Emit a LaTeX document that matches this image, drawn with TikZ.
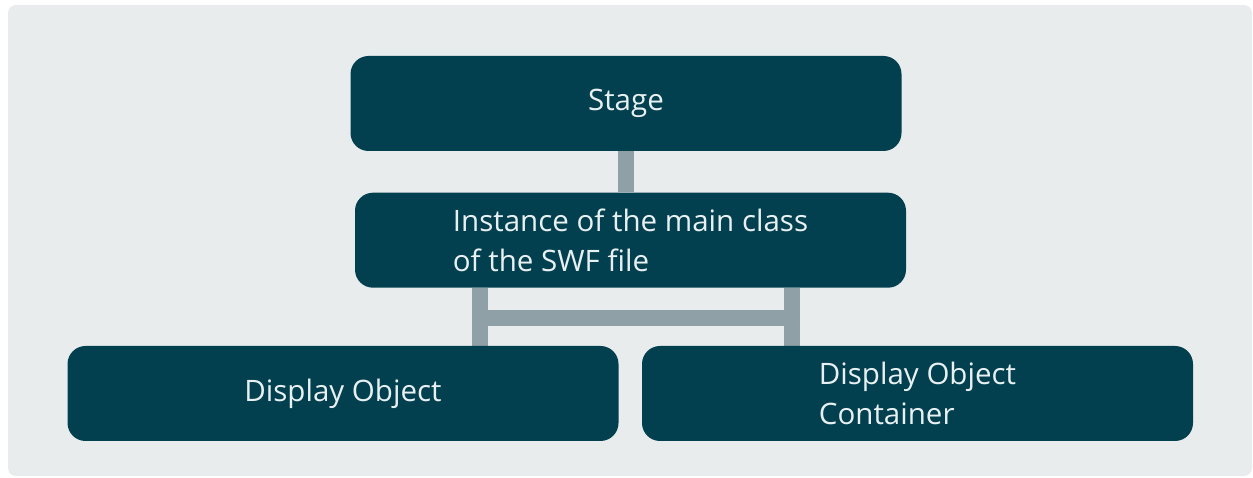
\documentclass[tikz,border=0pt]{standalone}
\usepackage{fontspec}
\setmainfont{Open Sans}
\usepackage{tikz}
\usetikzlibrary{positioning,backgrounds}

\definecolor{panelgray}{HTML}{E8ECED}
\definecolor{boxteal}{HTML}{03404F}
\definecolor{linkgray}{HTML}{8FA1A7}
\definecolor{boxtext}{HTML}{E8F0F2}

\tikzset{
  classbox/.style={draw=none, fill=boxteal, rounded corners=0.36cm,
    minimum width=11.02cm, minimum height=1.9cm, align=left,
    text=boxtext, font=\fontsize{16.8}{22.7}\selectfont},
  link/.style={draw=linkgray, line width=0.32cm}
}

\begin{document}
\begin{tikzpicture}
  \useasboundingbox (0,0) rectangle (25.06,9.56);

  \node[classbox] (stage) at (12.52,7.49) {Stage};
  \node[classbox, below=0.82cm of stage, xshift=0.09cm] (inst)
    {Instance of the main class\\of the SWF file};
  \node[classbox] (dobj) at (6.86,1.69) {Display Object};
  \node[classbox] (dcont) at (18.35,1.69) {Display Object\\Container};

  \coordinate (lft) at (9.6,3.2);
  \coordinate (rgt) at (15.84,3.2);

  \begin{scope}[on background layer]
    \fill[panelgray, rounded corners=0.16cm] (0.16,0.04) rectangle (25.04,9.46);
    \draw[link] (stage.south) -- (stage.south |- inst.north);
    \draw[link] (inst.south -| lft) -- (dobj.north -| lft);
    \draw[link] (inst.south -| rgt) -- (dcont.north -| rgt);
    \draw[link] (lft) -- (rgt);
  \end{scope}
\end{tikzpicture}
\end{document}
